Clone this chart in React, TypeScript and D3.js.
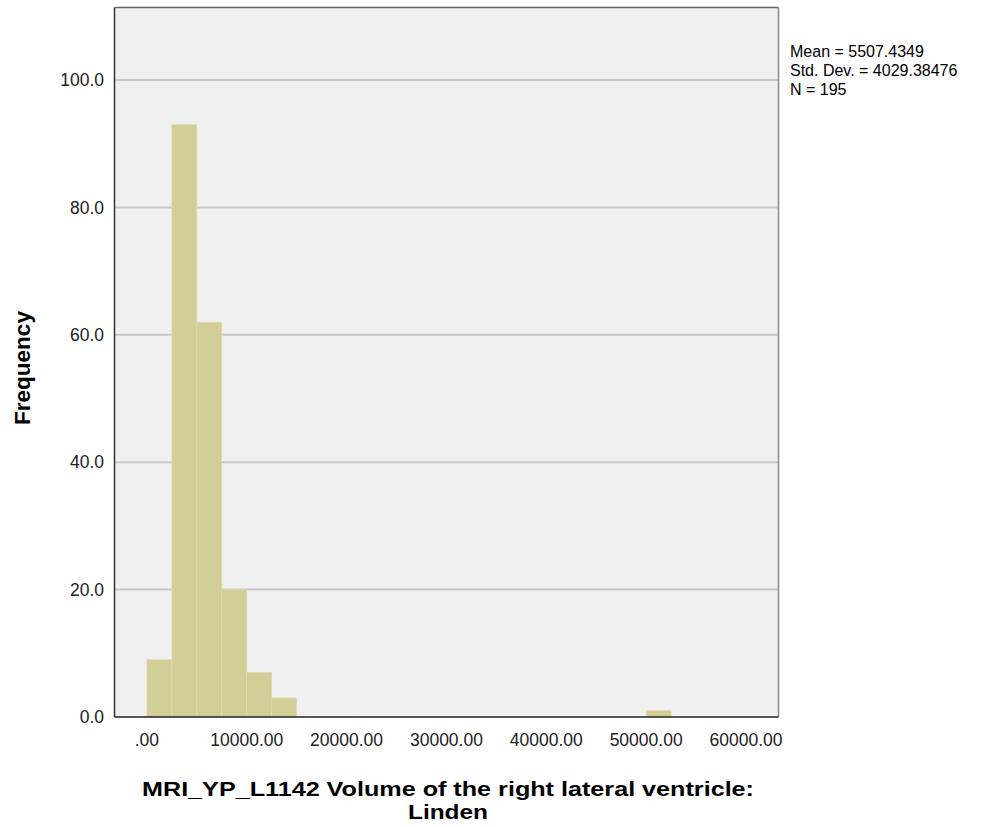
import React from "react";
import * as d3 from "d3";

const binStarts = [0, 2500, 5000, 7500, 10000, 12500, 50000];
const binWidth = 2500;
const counts = [9, 93, 62, 20, 7, 3, 1];
const xTicks = [0, 10000, 20000, 30000, 40000, 50000, 60000];
const yTicks = [0, 20, 40, 60, 80, 100];
const statsLines = ["Mean = 5507.4349", "Std. Dev. = 4029.38476", "N = 195"];
const xTitle = ["MRI_YP_L1142 Volume of the right lateral ventricle:", "Linden"];

const W = 985, H = 827;
const left = 114.5, right = 778.5, top = 7.5, bottom = 717;

export default function App() {
  const x = d3.scaleLinear().domain([-3246, 63256]).range([left, right]);
  const y = d3.scaleLinear().domain([0, 111.4]).range([bottom, top]);
  const font = "'Liberation Sans', Arial, sans-serif";
  const fmtX = (v: number) => (v === 0 ? ".00" : v.toFixed(2));
  return (
    <svg width={W} height={H} style={{ position: "absolute", left: 0, top: 0 }} fontFamily={font}>
      <rect x={0} y={0} width={W} height={H} fill="#ffffff" />
      <rect x={left} y={top} width={right - left} height={bottom - top} fill="#f0f0f0" />
      {yTicks.filter((t) => t > 0).map((t) => (
        <line key={t} x1={left} x2={right} y1={y(t)} y2={y(t)} stroke="#c8c8c8" strokeWidth={2} />
      ))}
      {binStarts.map((b, i) => (
        <rect
          key={i}
          x={x(b)}
          y={y(counts[i])}
          width={x(b + binWidth) - x(b)}
          height={y(0) - y(counts[i])}
          fill="#d3ce97"
          stroke="#e0dcb4"
          strokeWidth={0.6}
        />
      ))}
      <line x1={left} x2={right} y1={top} y2={top} stroke="#666" strokeWidth={1.5} />
      <line x1={right} x2={right} y1={top} y2={bottom} stroke="#888" strokeWidth={1.5} />
      <line x1={left} x2={left} y1={top} y2={bottom} stroke="#333" strokeWidth={1.5} />
      <line x1={left} x2={right} y1={bottom} y2={bottom} stroke="#222" strokeWidth={1.5} />
      {yTicks.map((t) => (
        <text key={t} x={104} y={y(t)} dy="0.35em" textAnchor="end" fontSize={17.5} fill="#222">
          {t.toFixed(1)}
        </text>
      ))}
      {xTicks.map((t) => (
        <text key={t} x={x(t)} y={746} textAnchor="middle" fontSize={17.5} fill="#222">
          {fmtX(t)}
        </text>
      ))}
      <text
        transform={`translate(30,368) rotate(-90)`}
        textAnchor="middle"
        fontSize={22.5}
        fontWeight="bold"
        fill="#000"
      >
        Frequency
      </text>
      <text x={448} y={796} textAnchor="middle" fontSize={20.5} fontWeight="bold" fill="#000"
        textLength={612} lengthAdjust="spacingAndGlyphs">
        {xTitle[0]}
      </text>
      <text x={448} y={819} textAnchor="middle" fontSize={20.5} fontWeight="bold" fill="#000"
        textLength={80} lengthAdjust="spacingAndGlyphs">
        {xTitle[1]}
      </text>
      {statsLines.map((s, i) => (
        <text key={i} x={790} y={57 + i * 19} fontSize={16} fill="#000">
          {s}
        </text>
      ))}
    </svg>
  );
}
